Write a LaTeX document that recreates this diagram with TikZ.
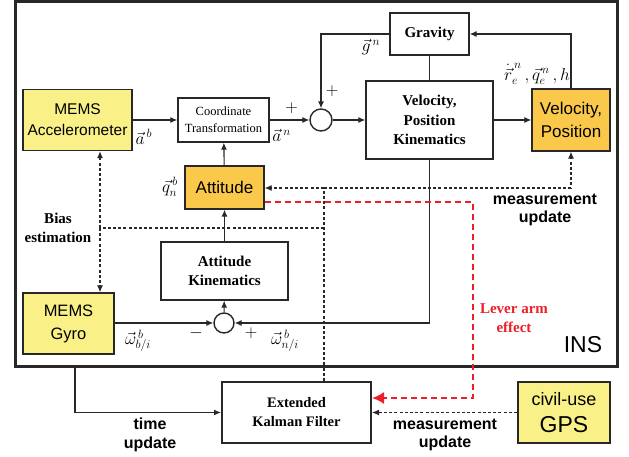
\documentclass[tikz,border=0pt]{standalone}
\usepackage{fontspec}
\setmainfont{Liberation Serif}
\newfontfamily\arialf{Liberation Sans}
\usetikzlibrary{arrows.meta}
\definecolor{memsyellow}{RGB}{249,241,135}
\definecolor{stateorange}{RGB}{250,200,75}
\definecolor{leverred}{RGB}{237,30,40}
\definecolor{linegray}{RGB}{40,40,40}
\tikzset{
  blk/.style={draw=linegray,line width=1.4pt,rectangle,inner sep=0pt,align=center},
  sensor/.style={blk,fill=memsyellow,font=\arialf\fontsize{16}{22}\selectfont},
  state/.style={blk,fill=stateorange,font=\arialf\fontsize{17}{23}\selectfont},
  proc/.style={blk,font=\bfseries\fontsize{15}{19.5}\selectfont},
  sumnode/.style={draw=linegray,line width=1.4pt,circle,minimum size=#1,inner sep=0pt},
  arr/.style={draw=linegray,line width=1.1pt,-{Latex[length=7pt,width=6pt]}},
  ln/.style={draw=linegray,line width=1.1pt},
  dsh/.style={draw=linegray,line width=1.1pt,dash pattern=on 3pt off 2.2pt},
  leverarm/.style={draw=leverred,line width=2pt,dash pattern=on 6pt off 4pt,-{Latex[length=12pt,width=12pt]}},
  lbl/.style={font=\fontsize{17}{20}\selectfont,inner sep=0pt},
  note/.style={font=\arialf\bfseries\fontsize{16}{18.5}\selectfont,align=center,inner sep=0pt},
  snote/.style={font=\bfseries\fontsize{15}{19}\selectfont,align=center,inner sep=0pt}
}
\begin{document}
\begin{tikzpicture}[x=1pt,y=-1pt]
  \useasboundingbox (0,0) rectangle (629,457);
  % INS frame
  \draw[linegray,line width=3pt] (15,2) rectangle (617,366);
  \node[font=\arialf\fontsize{23}{23}\selectfont,inner sep=0pt] (ins) at (583,345) {INS};

  \node[sensor,minimum width=109pt,minimum height=61pt,font=\arialf\fontsize{15.5}{21}\selectfont] (accel) at (77.5,120) {MEMS\\Accelerometer};
  \node[blk,minimum width=91pt,minimum height=44pt,font=\fontsize{12.5}{17}\selectfont] (coord) at (223.5,120) {Coordinate\\Transformation};
  \node[sumnode=22pt] (sumA) at (321,120) {};
  \node[proc,minimum width=127pt,minimum height=78pt] (vpk) at (429.5,120) {Velocity,\\Position\\Kinematics};
  \node[proc,minimum width=79pt,minimum height=42pt] (gravity) at (429.5,34) {Gravity};
  \node[state,minimum width=78pt,minimum height=62pt] (velpos) at (571,120) {Velocity,\\Position};
  \node[state,minimum width=79pt,minimum height=43pt] (att) at (224.5,187.5) {Attitude};
  \node[proc,minimum width=127pt,minimum height=58pt,font=\bfseries\fontsize{15}{19}\selectfont] (attkin) at (224.5,271) {Attitude\\Kinematics};
  \node[sumnode=20pt] (sumB) at (224,323) {};
  \node[sensor,minimum width=91pt,minimum height=61pt,font=\arialf\fontsize{16.5}{23}\selectfont] (gyro) at (68.5,323.5) {MEMS\\Gyro};
  \node[proc,minimum width=149pt,minimum height=61pt,line width=2pt,font=\bfseries\fontsize{14.5}{19}\selectfont] (ekf) at (296.5,412.5) {Extended\\Kalman Filter};
  \node[sensor,minimum width=92pt,minimum height=61pt,line width=2pt,font=\arialf\fontsize{18}{27}\selectfont] (gps) at (564,412.5) {civil-use\\{\fontsize{23}{27}\selectfont GPS}};

  % signal flow
  \draw[arr] (accel) -- (coord) node[lbl,pos=0.25,below=9pt] {$\vec{a}^{\,b}$};
  \draw[arr] (coord) -- (sumA) node[lbl,pos=0.3,below=9pt] {$\vec{a}^{\,n}$} node[lbl,pos=0.55,above=6pt] {$+$};
  \draw[arr] (gravity.west) -| (sumA.north);
  \node[lbl] at (371,47) {$\vec{g}^{\,n}$};
  \node[lbl] at (332,91) {$+$};
  \draw[arr] (sumA) -- (vpk);
  \draw[arr] (vpk) -- (velpos);
  \draw[ln] (gravity) -- (vpk);
  \draw[arr] (velpos.north) |- (gravity.east);
  \node[lbl] at (537,74) {$\dot{\vec{r}}_e^{\,n}\,,\vec{q}_e^{\,n}\,,h$};
  \draw[arr] (vpk.south) |- (sumB.east);
  \node[lbl] at (251,333) {$+$};
  \node[lbl] at (285,341) {$\vec{\omega}^{\,b}_{n/i}$};
  \draw[arr] (gyro.east |- sumB) -- (sumB.west);
  \node[lbl] at (138,341) {$\vec{\omega}^{\,b}_{b/i}$};
  \node[lbl] at (196,333) {$-$};
  \draw[arr] (sumB) -- (attkin);
  \draw[arr] (attkin) -- (att);
  \draw[arr] (att) -- (coord);
  \node[lbl] at (170,187) {$\vec{q}_n^{\,b}$};

  % measurement feedback
  \coordinate (hub) at (324,188);
  \coordinate (bias) at (100,228);
  \draw[dsh] (ekf.north -| hub) -- (hub);
  \draw[dsh,-{Latex[length=7pt,width=6pt]}] (hub) -- (att.east |- hub);
  \draw[dsh,-{Latex[length=7pt,width=6pt]}] (hub) -| (velpos.south);
  \draw[dsh] (hub |- bias) -- (bias);
  \draw[dsh,-{Latex[length=7pt,width=6pt]}] (bias) -- (accel.south -| bias);
  \draw[dsh,-{Latex[length=7pt,width=6pt]}] (bias) -- (gyro.north -| bias);
  \node[snote] at (58,228) {Bias\\estimation};
  \node[note] at (545,210) {measurement\\update};

  % lever arm
  \coordinate (lv) at (473,398);
  \draw[leverarm] ([yshift=-14.5pt]att.east) -| (lv) -- (ekf.east |- lv);
  \node[snote,text=leverred] at (514,318) {Lever arm\\effect};

  % EKF inputs
  \draw[dsh,-{Latex[length=7pt,width=6pt]}] (gps) -- (ekf);
  \node[note] at (445,435) {measurement\\update};
  \coordinate (tu) at (75,366);
  \draw[arr] (tu) |- (ekf.west);
  \node[note] at (150,435) {time\\update};
\end{tikzpicture}
\end{document}
